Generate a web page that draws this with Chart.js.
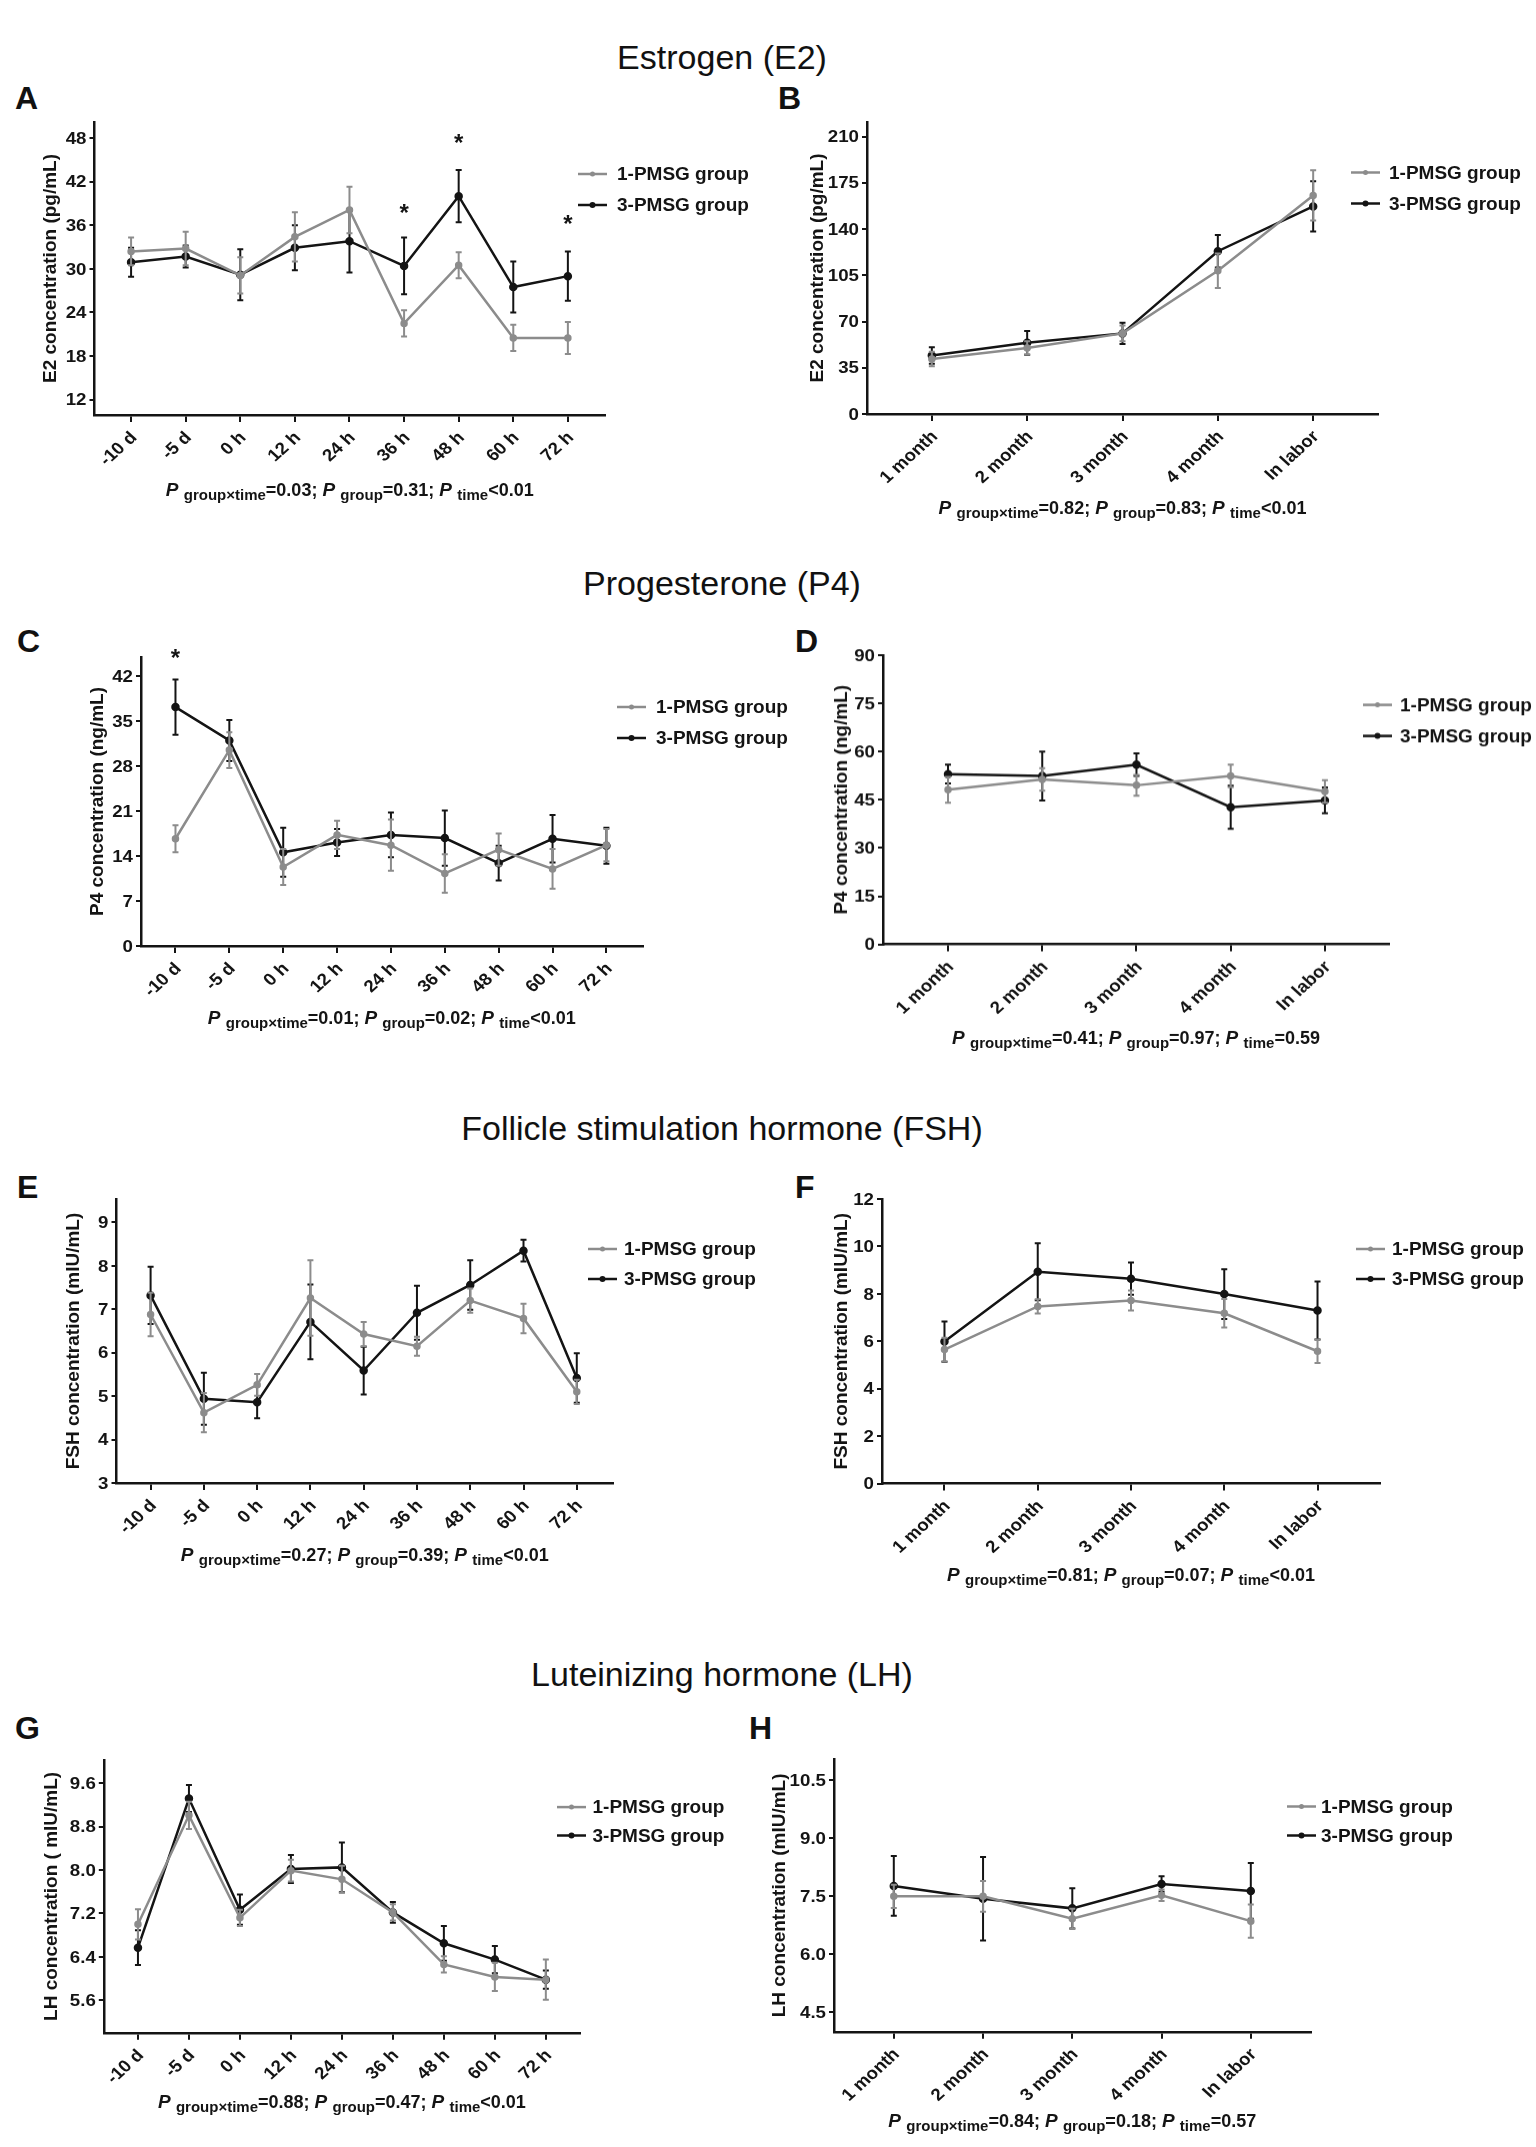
<!DOCTYPE html>
<html>
<head>
<meta charset="utf-8">
<script src="https://cdn.jsdelivr.net/npm/chart.js@4.4.1/dist/chart.umd.min.js"></script>
<style>
  body { margin: 0; background: #fff; width: 1536px; height: 2147px; position: relative; overflow: hidden;
         font-family: 'Liberation Sans', Arial, sans-serif; color: #111; }
  .title { position: absolute; font-size: 34px; line-height: 1; white-space: nowrap; transform: translateX(-50%); }
  .letter { position: absolute; font-size: 32px; line-height: 1; font-weight: bold; }
  canvas { position: absolute; }
</style>
</head>
<body>
<div class="title" style="left:722px;top:40px">Estrogen (E2)</div>
<div class="title" style="left:722px;top:566px">Progesterone (P4)</div>
<div class="title" style="left:722px;top:1111px">Follicle stimulation hormone (FSH)</div>
<div class="title" style="left:722px;top:1657px">Luteinizing hormone (LH)</div>
<div class="letter" style="left:15px;top:82px">A</div>
<div class="letter" style="left:778px;top:82px">B</div>
<div class="letter" style="left:17px;top:625px">C</div>
<div class="letter" style="left:795px;top:625px">D</div>
<div class="letter" style="left:17px;top:1171px">E</div>
<div class="letter" style="left:795px;top:1171px">F</div>
<div class="letter" style="left:15px;top:1712px">G</div>
<div class="letter" style="left:749px;top:1712px">H</div>
<script>
// categories
const hourLabels = ['-10 d', '-5 d', '0 h', '12 h', '24 h', '36 h', '48 h', '60 h', '72 h'];
const monthLabels = ['1 month', '2 month', '3 month', '4 month', 'In labor'];
const groupNames = ['1-PMSG group', '3-PMSG group'];

// E2
const e2Hour1 = [32.4, 32.8, 29.1, 34.4, 38.1, 22.5, 30.5, 20.5, 20.5];
const e2Hour1Err = [1.9, 2.3, 2.5, 3.4, 3.2, 1.8, 1.8, 1.8, 2.2];
const e2Hour3 = [30.9, 31.7, 29.2, 32.9, 33.8, 30.4, 40.0, 27.5, 29.0];
const e2Hour3Err = [2.0, 1.5, 3.5, 3.1, 4.3, 3.9, 3.6, 3.5, 3.4];
const e2HourStars = [5, 6, 8];
const e2HourStarY = [38.1, 47.7, 36.5];
const e2Month1 = [41.7, 50.0, 61.0, 108.4, 165.4];
const e2Month1Err = [5.5, 5.0, 6.0, 13.0, 19.0];
const e2Month3 = [44.3, 53.9, 61.0, 123.2, 157.1];
const e2Month3Err = [6.3, 9.0, 8.0, 12.3, 19.0];

// P4
const p4Hour1 = [16.7, 30.5, 12.3, 17.3, 15.7, 11.3, 15.0, 12.0, 15.7];
const p4Hour1Err = [2.1, 2.8, 2.8, 2.2, 4.0, 3.0, 2.5, 3.1, 2.5];
const p4Hour3 = [37.2, 32.0, 14.6, 16.1, 17.3, 16.8, 12.9, 16.7, 15.6];
const p4Hour3Err = [4.3, 3.2, 3.8, 2.1, 3.5, 4.3, 2.7, 3.7, 2.8];
const p4HourStars = [0];
const p4HourStarY = [45.2];
const p4Month1 = [48.1, 51.3, 49.5, 52.4, 47.6];
const p4Month1Err = [4.0, 3.5, 3.2, 3.5, 3.5];
const p4Month3 = [53.0, 52.4, 55.9, 42.7, 44.8];
const p4Month3Err = [2.9, 7.6, 3.5, 6.7, 4.0];

// FSH
const fshHour1 = [6.88, 4.62, 5.26, 7.26, 6.43, 6.15, 7.20, 6.79, 5.10];
const fshHour1Err = [0.5, 0.45, 0.25, 0.87, 0.28, 0.22, 0.28, 0.34, 0.28];
const fshHour3 = [7.32, 4.94, 4.86, 6.71, 5.59, 6.92, 7.56, 8.35, 5.42];
const fshHour3Err = [0.66, 0.6, 0.37, 0.86, 0.55, 0.62, 0.57, 0.25, 0.57];
const fshMonth1 = [5.65, 7.47, 7.72, 7.18, 5.58];
const fshMonth1Err = [0.5, 0.3, 0.42, 0.6, 0.5];
const fshMonth3 = [5.99, 8.93, 8.64, 7.99, 7.30];
const fshMonth3Err = [0.85, 1.2, 0.68, 1.05, 1.22];

// LH
const lhHour1 = [7.0, 9.01, 7.12, 7.99, 7.83, 7.22, 6.26, 6.03, 5.98];
const lhHour1Err = [0.28, 0.25, 0.15, 0.2, 0.25, 0.15, 0.15, 0.26, 0.37];
const lhHour3 = [6.57, 9.32, 7.27, 8.02, 8.05, 7.22, 6.65, 6.35, 5.98];
const lhHour3Err = [0.32, 0.25, 0.28, 0.26, 0.46, 0.19, 0.32, 0.25, 0.17];
const lhMonth1 = [7.50, 7.50, 6.92, 7.53, 6.86];
const lhMonth1Err = [0.3, 0.4, 0.26, 0.15, 0.43];
const lhMonth3 = [7.77, 7.44, 7.19, 7.82, 7.64];
const lhMonth3Err = [0.77, 1.08, 0.52, 0.2, 0.72];

// y tick labels
const e2HourTicks = [12, 18, 24, 30, 36, 42, 48];
const e2MonthTicks = [0, 35, 70, 105, 140, 175, 210];
const p4HourTicks = [0, 7, 14, 21, 28, 35, 42];
const p4MonthTicks = [0, 15, 30, 45, 60, 75, 90];
const fshHourTicks = [3, 4, 5, 6, 7, 8, 9];
const fshMonthTicks = [0, 2, 4, 6, 8, 10, 12];
const lhHourTicks = [5.6, 6.4, 7.2, 8.0, 8.8, 9.6];
const lhMonthTicks = [4.5, 6.0, 7.5, 9.0, 10.5];

// P values: group x time, group, time
const pE2Hour = ['=0.03', '=0.31', '<0.01'];
const pE2Month = ['=0.82', '=0.83', '<0.01'];
const pP4Hour = ['=0.01', '=0.02', '<0.01'];
const pP4Month = ['=0.41', '=0.97', '=0.59'];
const pFshHour = ['=0.27', '=0.39', '<0.01'];
const pFshMonth = ['=0.81', '=0.07', '<0.01'];
const pLhHour = ['=0.88', '=0.47', '<0.01'];
const pLhMonth = ['=0.84', '=0.18', '=0.57'];

const FONT = "'Liberation Sans', Arial, sans-serif";
const GRAY = '#8c8c8c';
const BLACK = '#141414';
const WIDE = 1.1; // tick text in the figure is a little stretched sideways
Chart.defaults.font.family = FONT;
Chart.defaults.color = BLACK;

const decor = {
  id: 'decor',
  afterDatasetDraw(chart, args) {
    const ds = chart.data.datasets[args.index];
    const xs = chart.scales.x, ys = chart.scales.y, ctx = chart.ctx;
    ctx.save();
    ctx.strokeStyle = ds.borderColor;
    ctx.lineWidth = 2;
    ds.errors.forEach((e, i) => {
      const x = xs.getPixelForValue(i);
      const t = ys.getPixelForValue(ds.data[i].y + e);
      const b = ys.getPixelForValue(ds.data[i].y - e);
      ctx.beginPath();
      ctx.moveTo(x, t); ctx.lineTo(x, b);
      ctx.moveTo(x - 3, t); ctx.lineTo(x + 3, t);
      ctx.moveTo(x - 3, b); ctx.lineTo(x + 3, b);
      ctx.stroke();
    });
    ctx.restore();
  },
  afterDraw(chart) {
    const o = chart.options.plugins.decor;
    const ctx = chart.ctx, xs = chart.scales.x, ys = chart.scales.y;
    const a = chart.chartArea;
    ctx.save();
    ctx.fillStyle = BLACK;

    // tick labels
    ctx.font = 'bold 17px ' + FONT;
    o.yTicks.forEach(v => {
      ctx.save();
      ctx.translate(a.left - 8, ys.getPixelForValue(v));
      ctx.scale(WIDE, 1);
      ctx.textAlign = 'right';
      ctx.textBaseline = 'middle';
      ctx.fillText(v.toFixed(o.dec), 0, 1);
      ctx.restore();
    });
    o.xLabels.forEach((t, i) => {
      ctx.save();
      ctx.translate(xs.getPixelForValue(i) + 3, a.bottom + 20);
      ctx.scale(WIDE, 1);
      ctx.rotate(-Math.PI / 4);
      ctx.textAlign = 'right';
      ctx.textBaseline = 'middle';
      ctx.fillText(t, 0, 0);
      ctx.restore();
    });

    // stars
    ctx.font = 'bold 24px ' + FONT;
    ctx.textAlign = 'center';
    ctx.textBaseline = 'middle';
    (o.stars || []).forEach((idx, k) => {
      ctx.fillText('*', xs.getPixelForValue(idx), ys.getPixelForValue(o.starY[k]) + 4);
    });

    // legend
    chart.data.datasets.forEach((ds, k) => {
      const y = o.legend.y[k];
      ctx.strokeStyle = ds.borderColor;
      ctx.lineWidth = 2.5;
      ctx.beginPath();
      ctx.moveTo(o.legend.sx, y); ctx.lineTo(o.legend.sx + 29, y);
      ctx.stroke();
      ctx.fillStyle = ds.borderColor;
      ctx.beginPath();
      ctx.arc(o.legend.sx + 14.5, y, k ? 3 : 2.5, 0, Math.PI * 2);
      ctx.fill();
      ctx.fillStyle = BLACK;
      ctx.font = 'bold 19px ' + FONT;
      ctx.textAlign = 'left';
      ctx.fillText(ds.label, o.legend.tx, y + 1);
    });

    // y title
    ctx.save();
    ctx.translate(o.yTitleX, (a.top + a.bottom) / 2);
    ctx.rotate(-Math.PI / 2);
    ctx.font = 'bold 19px ' + FONT;
    ctx.textAlign = 'center';
    ctx.fillText(o.yTitle, 0, 0);
    ctx.restore();

    // P text under the axis
    const main = 'bold 18px ' + FONT, ital = 'italic bold 19px ' + FONT, sub = 'bold 15px ' + FONT;
    const parts = [
      ['P ', ital, 0], ['group\u00d7time', sub, 4], [o.p[0] + '; ', main, 0],
      ['P ', ital, 0], ['group', sub, 4], [o.p[1] + '; ', main, 0],
      ['P ', ital, 0], ['time', sub, 4], [o.p[2], main, 0]
    ];
    let w = 0;
    parts.forEach(p => { ctx.font = p[1]; w += ctx.measureText(p[0]).width; });
    let x = (a.left + a.right) / 2 - w / 2;
    ctx.textAlign = 'left';
    ctx.textBaseline = 'alphabetic';
    parts.forEach(p => {
      ctx.font = p[1];
      ctx.fillText(p[0], x, o.pY + 7 + p[2]);
      x += ctx.measureText(p[0]).width;
    });
    ctx.restore();
  }
};

function panel(s) {
  const cl = s.left, ct = s.top - 70;
  const cw = cl === 0 ? 820 : 768;
  const ch = s.pY + 30 - ct;
  const c = document.createElement('canvas');
  c.width = cw; c.height = ch;
  c.style.left = cl + 'px'; c.style.top = ct + 'px';
  c.style.width = cw + 'px'; c.style.height = ch + 'px';
  document.body.appendChild(c);
  const series = [[s.one, s.oneErr, GRAY, 2.5], [s.three, s.threeErr, BLACK, 3]];
  new Chart(c, {
    type: 'line',
    data: {
      datasets: series.map((d, k) => ({
        label: groupNames[k],
        data: d[0].map((v, i) => ({ x: i, y: v })),
        errors: d[1],
        borderColor: d[2],
        backgroundColor: d[2],
        pointBackgroundColor: d[2],
        pointBorderColor: d[2],
        pointRadius: d[3],
        borderWidth: 2.5,
        tension: 0
      }))
    },
    options: {
      responsive: false,
      animation: false,
      layout: { padding: { left: 0, top: s.top - ct, right: cw - (s.right - cl), bottom: 0 } },
      plugins: {
        legend: { display: false },
        tooltip: { enabled: false },
        decor: {
          stars: s.stars, starY: s.starY,
          yTicks: s.ticks, dec: s.dec, xLabels: s.labels,
          legend: { sx: s.lx - cl, tx: s.tx - cl, y: [s.ly[0] - ct, s.ly[1] - ct] },
          yTitle: s.yTitle, yTitleX: s.yTitleX - cl,
          p: s.p, pY: s.pY - ct
        }
      },
      scales: {
        x: {
          type: 'linear', min: s.xMin, max: s.xMax,
          afterBuildTicks: sc => { sc.ticks = s.labels.map((_, i) => ({ value: i })); },
          afterFit: sc => { sc.height = ch - (s.bottom - ct); },
          grid: { drawOnChartArea: false, drawTicks: true, tickLength: 7, color: BLACK, lineWidth: 2 },
          border: { display: true, color: BLACK, width: 2.5 },
          ticks: { display: false }
        },
        y: {
          min: s.yMin, max: s.yMax,
          afterBuildTicks: sc => { sc.ticks = s.ticks.map(v => ({ value: v })); },
          afterFit: sc => { sc.width = s.axisX - cl; },
          grid: { drawOnChartArea: false, drawTicks: true, tickLength: 5, color: BLACK, lineWidth: 2 },
          border: { display: true, color: BLACK, width: 2.5 },
          ticks: { display: false }
        }
      }
    },
    plugins: [decor]
  });
}

panel({ left: 0, top: 122, bottom: 415, axisX: 94.5, right: 605, xMin: -0.67, xMax: 8.68,
  yMin: 9.9, yMax: 50.2, ticks: e2HourTicks, dec: 0, labels: hourLabels,
  one: e2Hour1, oneErr: e2Hour1Err, three: e2Hour3, threeErr: e2Hour3Err,
  stars: e2HourStars, starY: e2HourStarY,
  lx: 578, tx: 617, ly: [174, 205], yTitle: 'E2 concentration (pg/mL)', yTitleX: 51, p: pE2Hour, pY: 489 });

panel({ left: 768, top: 121.5, bottom: 414, axisX: 867, right: 1378, xMin: -0.68, xMax: 4.68,
  yMin: 0, yMax: 221, ticks: e2MonthTicks, dec: 0, labels: monthLabels,
  one: e2Month1, oneErr: e2Month1Err, three: e2Month3, threeErr: e2Month3Err,
  lx: 1351, tx: 1389, ly: [172, 203], yTitle: 'E2 concentration (pg/mL)', yTitleX: 818, p: pE2Month, pY: 506 });

panel({ left: 0, top: 657, bottom: 946, axisX: 141, right: 642.5, xMin: -0.64, xMax: 8.67,
  yMin: 0, yMax: 45, ticks: p4HourTicks, dec: 0, labels: hourLabels,
  one: p4Hour1, oneErr: p4Hour1Err, three: p4Hour3, threeErr: p4Hour3Err,
  stars: p4HourStars, starY: p4HourStarY,
  lx: 617, tx: 656, ly: [707, 738], yTitle: 'P4 concentration (ng/mL)', yTitleX: 98, p: pP4Hour, pY: 1017 });

panel({ left: 768, top: 655.4, bottom: 944.6, axisX: 883, right: 1389, xMin: -0.69, xMax: 4.68,
  yMin: 0, yMax: 90, ticks: p4MonthTicks, dec: 0, labels: monthLabels,
  one: p4Month1, oneErr: p4Month1Err, three: p4Month3, threeErr: p4Month3Err,
  lx: 1363, tx: 1400, ly: [705, 736], yTitle: 'P4 concentration (ng/mL)', yTitleX: 841.5, p: pP4Month, pY: 1036 });

panel({ left: 0, top: 1199, bottom: 1483, axisX: 116.5, right: 613, xMin: -0.64, xMax: 8.68,
  yMin: 3, yMax: 9.54, ticks: fshHourTicks, dec: 0, labels: hourLabels,
  one: fshHour1, oneErr: fshHour1Err, three: fshHour3, threeErr: fshHour3Err,
  lx: 588, tx: 624, ly: [1249, 1279], yTitle: 'FSH concentration (mIU/mL)', yTitleX: 73.5, p: pFshHour, pY: 1554 });

panel({ left: 768, top: 1199, bottom: 1483.6, axisX: 882, right: 1380, xMin: -0.67, xMax: 4.67,
  yMin: 0, yMax: 12, ticks: fshMonthTicks, dec: 0, labels: monthLabels,
  one: fshMonth1, oneErr: fshMonth1Err, three: fshMonth3, threeErr: fshMonth3Err,
  lx: 1356, tx: 1392, ly: [1249, 1279], yTitle: 'FSH concentration (mIU/mL)', yTitleX: 841.5, p: pFshMonth, pY: 1574 });

panel({ left: 0, top: 1759.5, bottom: 2032.8, axisX: 103.8, right: 580, xMin: -0.67, xMax: 8.67,
  yMin: 5.0, yMax: 10.03, ticks: lhHourTicks, dec: 1, labels: hourLabels,
  one: lhHour1, oneErr: lhHour1Err, three: lhHour3, threeErr: lhHour3Err,
  lx: 557, tx: 592.5, ly: [1806.6, 1835], yTitle: 'LH concentration ( mIU/mL)', yTitleX: 51.5, p: pLhHour, pY: 2100 });

panel({ left: 768, top: 1758.5, bottom: 2031.8, axisX: 834, right: 1310.6, xMin: -0.67, xMax: 4.67,
  yMin: 4.0, yMax: 11.05, ticks: lhMonthTicks, dec: 1, labels: monthLabels,
  one: lhMonth1, oneErr: lhMonth1Err, three: lhMonth3, threeErr: lhMonth3Err,
  lx: 1287, tx: 1321, ly: [1806, 1835], yTitle: 'LH concentration (mIU/mL)', yTitleX: 780, p: pLhMonth, pY: 2119 });
</script>
</body>
</html>
